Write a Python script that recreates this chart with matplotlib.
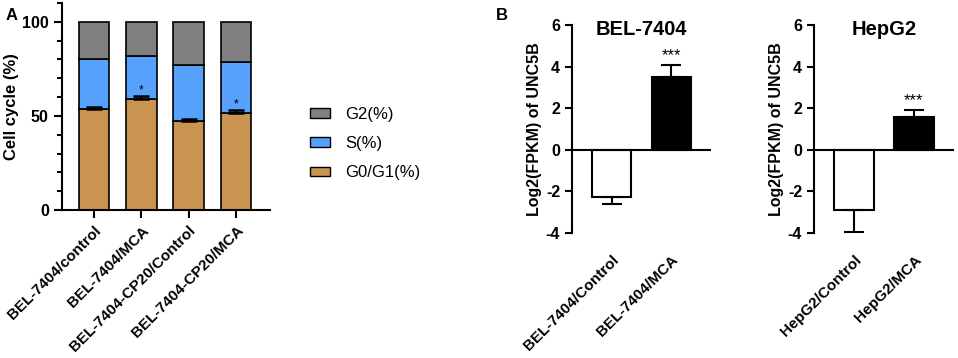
import numpy as np
import matplotlib
matplotlib.use('Agg')
from matplotlib import pyplot as plt
from matplotlib.ticker import MultipleLocator
from matplotlib.patches import Patch

plt.rcParams['font.family'] = ['Liberation Sans', 'DejaVu Sans']
plt.rcParams['axes.unicode_minus'] = False

# panel A: cell cycle distribution
groups_a = ['BEL-7404/control', 'BEL-7404/MCA', 'BEL-7404-CP20/Control', 'BEL-7404-CP20/MCA']
g0g1 = [53.7, 59.0, 47.5, 51.4]
g0g1_err = [1.0, 1.6, 0.6, 1.9]
s_phase = [26.4, 23.1, 29.3, 27.5]
g2 = [100 - a - b for a, b in zip(g0g1, s_phase)]
stars_a = ['', '*', '', '*']

# panel B: UNC5B expression
groups_bel = ['BEL-7404/Control', 'BEL-7404/MCA']
bel_vals = [-2.25, 3.48]
bel_err = [0.37, 0.6]
groups_hep = ['HepG2/Control', 'HepG2/MCA']
hep_vals = [-2.88, 1.58]
hep_err = [1.05, 0.33]

c_g01 = '#C8944F'
c_s = '#55A1FB'
c_g2 = '#808080'

W, H = 958, 358
fig = plt.figure(figsize=(W / 100, H / 100), dpi=100)

def box(l, r, t, b):
    return [l / W, 1 - b / H, (r - l) / W, (b - t) / H]

def style(ax):
    for sp in ['top', 'right']:
        ax.spines[sp].set_visible(False)
    for sp in ['left', 'bottom']:
        ax.spines[sp].set_linewidth(1.5)

# ---- A
ax = fig.add_axes(box(62, 270, 3, 210))
style(ax)
x = np.arange(len(groups_a))
bw = 0.645
ax.bar(x, g0g1, bw, color=c_g01, edgecolor='black', linewidth=1.2, zorder=2)
ax.bar(x, s_phase, bw, bottom=g0g1, color=c_s, edgecolor='black', linewidth=1.2, zorder=2)
ax.bar(x, g2, bw, bottom=np.array(g0g1) + np.array(s_phase), color=c_g2, edgecolor='black', linewidth=1.2, zorder=2)
ax.errorbar(x, g0g1, yerr=[np.zeros(4), g0g1_err], fmt='none', ecolor='black',
            elinewidth=1.5, capsize=5.5, capthick=1.8, zorder=3)
for i in range(len(x)):
    if stars_a[i]:
        ax.text(x[i], g0g1[i] + g0g1_err[i] - 0.5, stars_a[i], ha='center', va='bottom', fontsize=8.5)
ax.set_xlim(-0.68, 3.72)
ax.set_ylim(0, 110)
ax.set_yticks([0, 50, 100])
ax.yaxis.set_minor_locator(MultipleLocator(10))
ax.tick_params(axis='y', which='major', length=6, width=1.5, labelsize=11.5)
ax.tick_params(axis='y', which='minor', length=3.5, width=1.5)
ax.tick_params(axis='x', length=6, width=1.5, labelsize=11)
ax.set_xticks(x)
ax.set_xticklabels(groups_a, rotation=45, ha='right', rotation_mode='anchor', fontweight='bold')
for lb in ax.get_yticklabels():
    lb.set_fontweight('bold')
ax.set_ylabel('Cell cycle (%)', fontsize=12, fontweight='bold', labelpad=2)
fig.text(12 / W, 1 - 15 / H, 'A', fontsize=12, fontweight='bold', ha='center', va='center')

handles = [Patch(facecolor=c_g2, edgecolor='black', linewidth=1),
           Patch(facecolor=c_s, edgecolor='black', linewidth=1),
           Patch(facecolor=c_g01, edgecolor='black', linewidth=1)]
fig.legend(handles, ['G2(%)', 'S(%)', 'G0/G1(%)'], loc='center left',
           bbox_to_anchor=(310 / W, 1 - 143.5 / H), frameon=False, fontsize=12,
           handlelength=1.2, handleheight=0.5, handletextpad=0.9,
           labelspacing=0.85, borderpad=0, borderaxespad=0)

# ---- B
def panel_b(rect, labels, vals, errs, title):
    ax = fig.add_axes(rect)
    style(ax)
    ax.spines['bottom'].set_visible(False)
    xb = np.arange(len(labels))
    ax.bar(xb, vals, 0.66, color=['white', 'black'], edgecolor='black', linewidth=1.5, zorder=2)
    lower = [e if v < 0 else 0 for v, e in zip(vals, errs)]
    upper = [e if v >= 0 else 0 for v, e in zip(vals, errs)]
    ax.errorbar(xb, vals, yerr=[lower, upper], fmt='none', ecolor='black',
                elinewidth=1.5, capsize=7, capthick=1.5, zorder=3)
    ax.axhline(0, color='black', linewidth=1.5, zorder=4)
    ax.text(xb[1], vals[1] + errs[1] + 0.1, '***', ha='center', va='bottom', fontsize=12)
    ax.set_xlim(-0.67, 1.67)
    ax.set_ylim(-4, 6)
    ax.set_yticks([-4, -2, 0, 2, 4, 6])
    ax.tick_params(axis='y', length=5, width=1.5, labelsize=11.5)
    for lb in ax.get_yticklabels():
        lb.set_fontweight('bold')
    ax.tick_params(axis='x', length=0, pad=14, labelsize=11)
    ax.set_xticks(xb)
    ax.set_xticklabels(labels, rotation=45, ha='right', rotation_mode='anchor', fontweight='bold')
    ax.set_ylabel('Log2(FPKM) of UNC5B', fontsize=11.5, fontweight='bold', labelpad=3)
    ax.text(0.5, 0.952, title, transform=ax.transAxes, ha='center', va='baseline',
            fontsize=14.5, fontweight='bold')
    return ax

panel_b(box(572, 711, 25, 233), groups_bel, bel_vals, bel_err, 'BEL-7404')
panel_b(box(814, 954, 25, 233), groups_hep, hep_vals, hep_err, 'HepG2')
fig.text(502 / W, 1 - 15 / H, 'B', fontsize=12, fontweight='bold', ha='center', va='center')

fig.savefig('out.png', dpi=100)
